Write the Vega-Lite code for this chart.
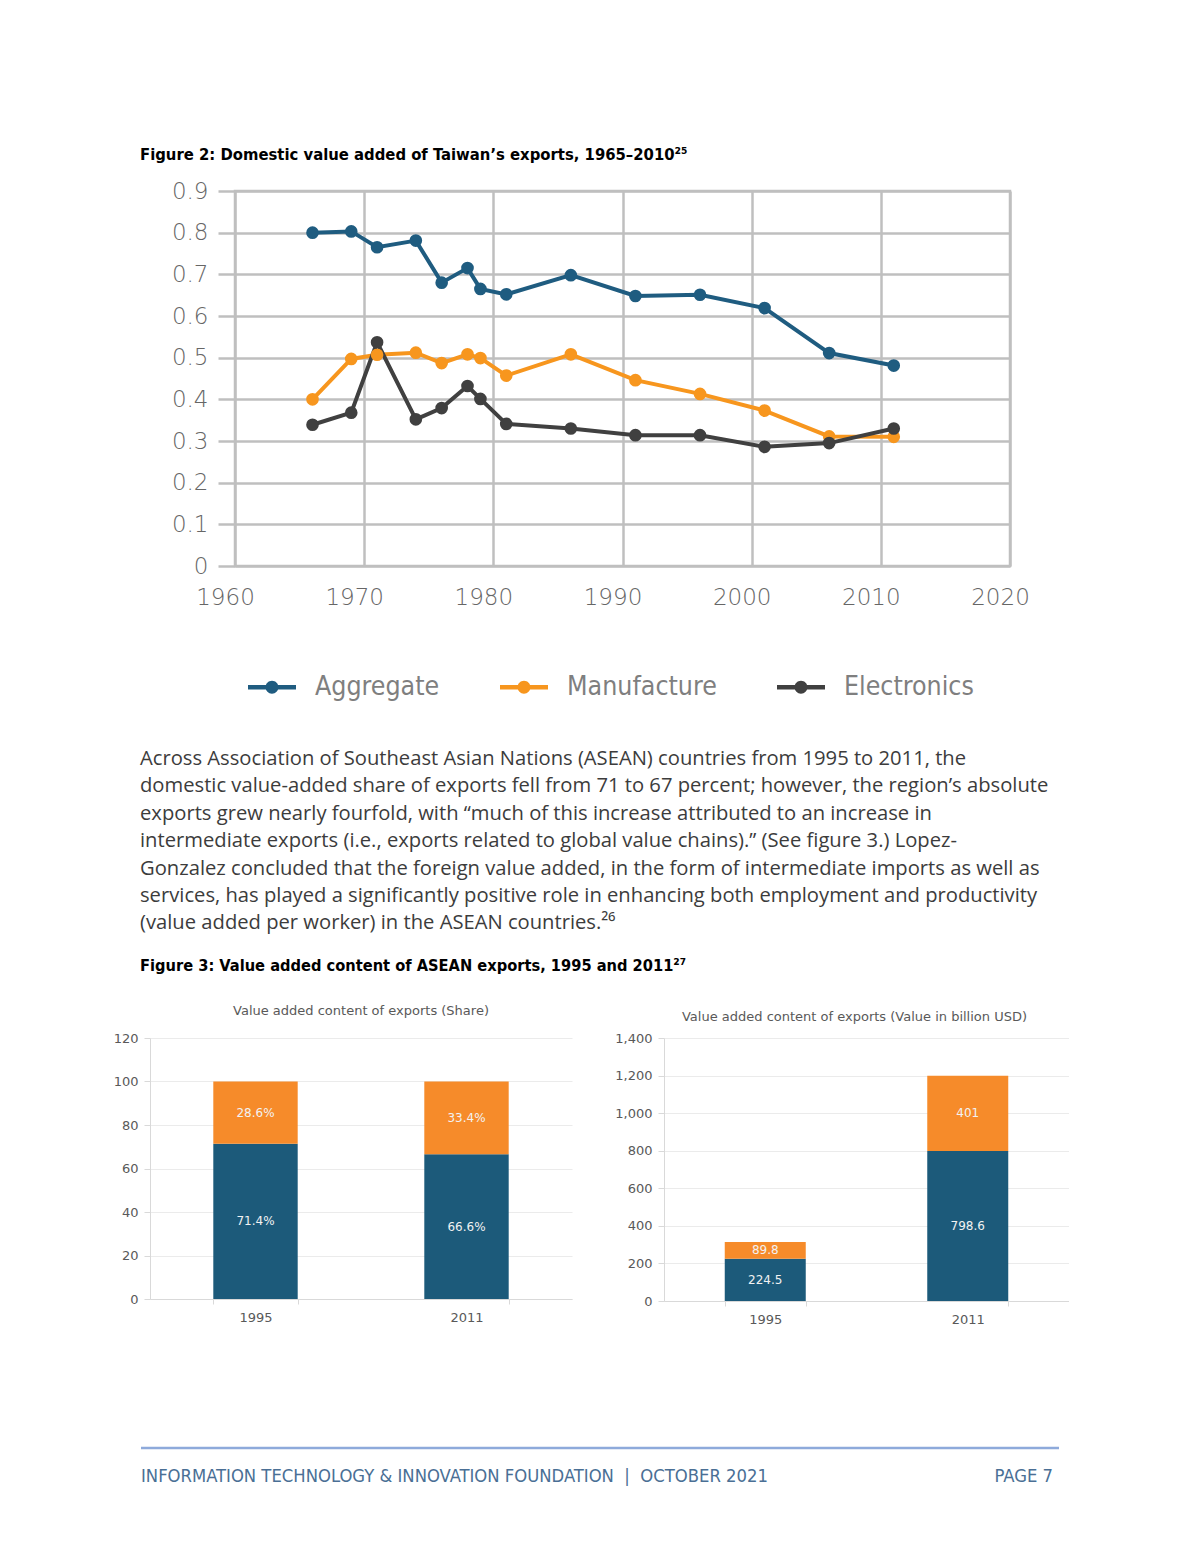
{
  "$schema": "https://vega.github.io/schema/vega-lite/v6.json",
  "background": "white",
  "padding": {"left": 113, "top": 147, "right": 0, "bottom": 0},
  "config": {
    "view": {"stroke": null},
    "axis": {"titleFontWeight": "normal"}
  },
  "datasets": {
    "line": [
      {"year": 1966, "value": 0.800, "series": "Aggregate"},
      {"year": 1969, "value": 0.803, "series": "Aggregate"},
      {"year": 1971, "value": 0.765, "series": "Aggregate"},
      {"year": 1974, "value": 0.781, "series": "Aggregate"},
      {"year": 1976, "value": 0.680, "series": "Aggregate"},
      {"year": 1978, "value": 0.715, "series": "Aggregate"},
      {"year": 1979, "value": 0.665, "series": "Aggregate"},
      {"year": 1981, "value": 0.652, "series": "Aggregate"},
      {"year": 1986, "value": 0.698, "series": "Aggregate"},
      {"year": 1991, "value": 0.648, "series": "Aggregate"},
      {"year": 1996, "value": 0.651, "series": "Aggregate"},
      {"year": 2001, "value": 0.619, "series": "Aggregate"},
      {"year": 2006, "value": 0.511, "series": "Aggregate"},
      {"year": 2011, "value": 0.481, "series": "Aggregate"},
      {"year": 1966, "value": 0.400, "series": "Manufacture"},
      {"year": 1969, "value": 0.497, "series": "Manufacture"},
      {"year": 1971, "value": 0.507, "series": "Manufacture"},
      {"year": 1974, "value": 0.512, "series": "Manufacture"},
      {"year": 1976, "value": 0.487, "series": "Manufacture"},
      {"year": 1978, "value": 0.508, "series": "Manufacture"},
      {"year": 1979, "value": 0.499, "series": "Manufacture"},
      {"year": 1981, "value": 0.457, "series": "Manufacture"},
      {"year": 1986, "value": 0.508, "series": "Manufacture"},
      {"year": 1991, "value": 0.446, "series": "Manufacture"},
      {"year": 1996, "value": 0.413, "series": "Manufacture"},
      {"year": 2001, "value": 0.373, "series": "Manufacture"},
      {"year": 2006, "value": 0.311, "series": "Manufacture"},
      {"year": 2011, "value": 0.310, "series": "Manufacture"},
      {"year": 1966, "value": 0.339, "series": "Electronics"},
      {"year": 1969, "value": 0.368, "series": "Electronics"},
      {"year": 1971, "value": 0.537, "series": "Electronics"},
      {"year": 1974, "value": 0.352, "series": "Electronics"},
      {"year": 1976, "value": 0.379, "series": "Electronics"},
      {"year": 1978, "value": 0.432, "series": "Electronics"},
      {"year": 1979, "value": 0.401, "series": "Electronics"},
      {"year": 1981, "value": 0.341, "series": "Electronics"},
      {"year": 1986, "value": 0.330, "series": "Electronics"},
      {"year": 1991, "value": 0.314, "series": "Electronics"},
      {"year": 1996, "value": 0.314, "series": "Electronics"},
      {"year": 2001, "value": 0.286, "series": "Electronics"},
      {"year": 2006, "value": 0.295, "series": "Electronics"},
      {"year": 2011, "value": 0.330, "series": "Electronics"}
    ],
    "share": [
      {"year": "1995", "part": "Domestic value added", "value": 71.4, "label": "71.4%"},
      {"year": "1995", "part": "Foreign value added", "value": 28.6, "label": "28.6%"},
      {"year": "2011", "part": "Domestic value added", "value": 66.6, "label": "66.6%"},
      {"year": "2011", "part": "Foreign value added", "value": 33.4, "label": "33.4%"}
    ],
    "usd": [
      {"year": "1995", "part": "Domestic value added", "value": 224.5, "label": "224.5"},
      {"year": "1995", "part": "Foreign value added", "value": 89.8, "label": "89.8"},
      {"year": "2011", "part": "Domestic value added", "value": 798.6, "label": "798.6"},
      {"year": "2011", "part": "Foreign value added", "value": 401, "label": "401"}
    ]
  },
  "spacing": 46,
  "vconcat": [
    {
      "title": {
        "text": "Figure 2: Domestic value added of Taiwan’s exports, 1965–2010²⁵",
        "anchor": "start", "frame": "group", "dx": -10, "offset": 15,
        "font": "DejaVu Sans Condensed, Liberation Sans, sans-serif", "fontSize": 16.5, "fontWeight": "bold", "color": "#000000"
      },
      "spacing": 0,
      "hconcat": [
        {
          "width": 20, "height": 1,
          "data": {"values": []},
          "mark": {"type": "point"},
          "encoding": {}
        },
        {
          "width": 775, "height": 375,
          "view": {"stroke": "#bfbfbf", "strokeWidth": 2.5},
          "data": {"name": "line"},
          "encoding": {
            "x": {
              "field": "year", "type": "quantitative",
              "scale": {"domain": [1960, 2020], "nice": false, "zero": false},
              "axis": {
                "values": [1960, 1970, 1980, 1990, 2000, 2010, 2020], "format": "d", "title": null,
                "grid": true, "gridColor": "#bfbfbf", "gridWidth": 2.5, "domain": false, "ticks": false,
                "labelFont": "DejaVu Sans", "labelFontWeight": 200, "labelFontSize": 23, "labelColor": "#666666",
                "labelPadding": 20, "labelOffset": -10, "labelFlush": false, "labelOverlap": false
              }
            },
            "y": {
              "field": "value", "type": "quantitative",
              "scale": {"domain": [0, 0.9], "nice": false},
              "axis": {
                "values": [0, 0.1, 0.2, 0.3, 0.4, 0.5, 0.6, 0.7, 0.8, 0.9], "format": ".1~f", "title": null,
                "grid": true, "gridColor": "#bfbfbf", "gridWidth": 2.5, "domain": false,
                "ticks": true, "tickSize": 17, "tickColor": "#bfbfbf", "tickWidth": 2.5,
                "labelFont": "DejaVu Sans", "labelFontWeight": 200, "labelFontSize": 23, "labelColor": "#666666", "labelPadding": 10,
                "labelOverlap": false
              }
            }
          },
          "layer": [
            {
              "mark": {"type": "line", "strokeWidth": 4},
              "encoding": {
                "stroke": {
                  "field": "series", "type": "nominal",
                  "scale": {"domain": ["Aggregate", "Manufacture", "Electronics"], "range": ["#1f5c80", "#f7961e", "#404040"]},
                  "legend": null
                }
              }
            },
            {
              "mark": {"type": "point", "filled": true, "size": 160, "opacity": 1, "strokeWidth": 0},
              "encoding": {
                "fill": {
                  "field": "series", "type": "nominal",
                  "scale": {"domain": ["Aggregate", "Manufacture", "Electronics"], "range": ["#1f5c80", "#f7961e", "#404040"]},
                  "legend": {
                    "orient": "none", "legendX": 13, "legendY": 472, "direction": "horizontal", "title": null,
                    "symbolType": "M-1,-0.09H1V0.09H-1Z M0.27,0A0.27,0.27,0,1,1,-0.27,0A0.27,0.27,0,1,1,0.27,0Z",
                    "symbolSize": 2304, "symbolStrokeWidth": 0, "symbolOpacity": 1,
                    "labelFont": "DejaVu Sans Condensed, Liberation Sans, sans-serif", "labelFontSize": 26.5, "labelColor": "#7f7f7f",
                    "labelOffset": 19, "columnPadding": 60, "padding": 0
                  }
                }
              }
            }
          ],
          "resolve": {"scale": {"fill": "independent", "stroke": "independent"}}
        }
      ]
    },
    {
      "title": {
        "text": [
          "Across Association of Southeast Asian Nations (ASEAN) countries from 1995 to 2011, the",
          "domestic value-added share of exports fell from 71 to 67 percent; however, the region’s absolute",
          "exports grew nearly fourfold, with “much of this increase attributed to an increase in",
          "intermediate exports (i.e., exports related to global value chains).” (See figure 3.) Lopez-",
          "Gonzalez concluded that the foreign value added, in the form of intermediate imports as well as",
          "services, has played a significantly positive role in enhancing both employment and productivity",
          "(value added per worker) in the ASEAN countries.²⁶"
        ],
        "subtitle": "Figure 3: Value added content of ASEAN exports, 1995 and 2011²⁷",
        "anchor": "start", "frame": "group", "dx": -10, "offset": 31,
        "font": "Open Sans", "fontSize": 20.2, "fontWeight": "normal", "color": "#3c3c3c", "lineHeight": 27.4,
        "subtitleFont": "DejaVu Sans Condensed, Liberation Sans, sans-serif", "subtitleFontSize": 16.3, "subtitleFontWeight": "bold",
        "subtitleColor": "#000000", "subtitlePadding": 24
      },
      "spacing": 120,
      "vconcat": [
        {
          "spacing": 42,
          "hconcat": [
            {
              "width": 422, "height": 261,
              "title": {
                "text": "Value added content of exports (Share)", "anchor": "middle", "offset": 14,
                "font": "DejaVu Sans", "fontSize": 13, "fontWeight": "normal", "color": "#595959"
              },
              "data": {"name": "share"},
              "encoding": {
                "x": {
                  "field": "year", "type": "ordinal",
                  "scale": {"paddingInner": 0.6, "paddingOuter": 0.3},
                  "axis": {
                    "title": null, "labelAngle": 0, "domainColor": "#d9d9d9", "tickColor": "#d9d9d9",
                    "tickBand": "extent", "tickSize": 5, "labelFont": "DejaVu Sans", "labelFontSize": 13,
                    "labelColor": "#595959", "labelPadding": 7, "grid": false
                  }
                },
                "y": {
                  "field": "value", "type": "quantitative", "stack": "zero",
                  "scale": {"domain": [0, 120], "nice": false},
                  "axis": {
                    "values": [0, 20, 40, 60, 80, 100, 120], "title": null, "grid": true, "gridColor": "#ebebeb",
                    "domainColor": "#d9d9d9", "tickColor": "#d9d9d9", "tickSize": 6,
                    "labelFont": "DejaVu Sans", "labelFontSize": 13, "labelColor": "#595959", "labelPadding": 6
                  }
                },
                "order": {"field": "part", "type": "nominal", "sort": "ascending"}
              },
              "layer": [
                {
                  "mark": {"type": "bar"},
                  "encoding": {
                    "color": {
                      "field": "part", "type": "nominal",
                      "scale": {"domain": ["Domestic value added", "Foreign value added"], "range": ["#1c5a7a", "#f68b2a"]},
                      "legend": null
                    }
                  }
                },
                {
                  "mark": {"type": "text", "font": "DejaVu Sans", "fontSize": 12, "color": "#f2f2f2", "baseline": "middle"},
                  "encoding": {
                    "detail": {"field": "part", "type": "nominal"},
                    "y": {"field": "value", "type": "quantitative", "stack": "zero", "bandPosition": 0.5},
                    "text": {"field": "label", "type": "nominal"}
                  }
                }
              ]
            },
            {
              "width": 405, "height": 263,
              "title": {
                "text": "Value added content of exports (Value in billion USD)", "anchor": "middle", "offset": 8, "dx": -12,
                "font": "DejaVu Sans", "fontSize": 13, "fontWeight": "normal", "color": "#595959"
              },
              "data": {"name": "usd"},
              "encoding": {
                "x": {
                  "field": "year", "type": "ordinal",
                  "scale": {"paddingInner": 0.6, "paddingOuter": 0.3},
                  "axis": {
                    "title": null, "labelAngle": 0, "domainColor": "#d9d9d9", "tickColor": "#d9d9d9",
                    "tickBand": "extent", "tickSize": 5, "labelFont": "DejaVu Sans", "labelFontSize": 13,
                    "labelColor": "#595959", "labelPadding": 7, "grid": false
                  }
                },
                "y": {
                  "field": "value", "type": "quantitative", "stack": "zero",
                  "scale": {"domain": [0, 1400], "nice": false},
                  "axis": {
                    "values": [0, 200, 400, 600, 800, 1000, 1200, 1400], "format": ",d", "title": null,
                    "grid": true, "gridColor": "#ebebeb",
                    "domainColor": "#d9d9d9", "tickColor": "#d9d9d9", "tickSize": 6,
                    "labelFont": "DejaVu Sans", "labelFontSize": 13, "labelColor": "#595959", "labelPadding": 6
                  }
                },
                "order": {"field": "part", "type": "nominal", "sort": "ascending"}
              },
              "layer": [
                {
                  "mark": {"type": "bar"},
                  "encoding": {
                    "color": {
                      "field": "part", "type": "nominal",
                      "scale": {"domain": ["Domestic value added", "Foreign value added"], "range": ["#1c5a7a", "#f68b2a"]},
                      "legend": null
                    }
                  }
                },
                {
                  "mark": {"type": "text", "font": "DejaVu Sans", "fontSize": 12, "color": "#f2f2f2", "baseline": "middle"},
                  "encoding": {
                    "detail": {"field": "part", "type": "nominal"},
                    "y": {"field": "value", "type": "quantitative", "stack": "zero", "bandPosition": 0.5},
                    "text": {"field": "label", "type": "nominal"}
                  }
                }
              ]
            }
          ]
        },
        {
          "width": 918, "height": 38,
          "data": {"values": [{}]},
          "layer": [
            {
              "mark": {"type": "rule", "color": "#8eaadb", "strokeWidth": 2.5},
              "encoding": {
                "x": {"datum": 0, "type": "quantitative", "scale": {"domain": [0, 1], "range": [-9, 909]}, "axis": null},
                "x2": {"datum": 1},
                "y": {"datum": 1, "type": "quantitative", "scale": {"domain": [0, 1]}, "axis": null}
              }
            },
            {
              "mark": {
                "type": "text", "text": "INFORMATION TECHNOLOGY & INNOVATION FOUNDATION\u00a0 |\u00a0 OCTOBER 2021",
                "align": "left", "baseline": "bottom", "font": "DejaVu Sans Condensed, Liberation Sans, sans-serif", "fontSize": 18.3, "color": "#4a6f95"
              },
              "encoding": {
                "x": {"datum": 0, "type": "quantitative"},
                "y": {"datum": 0, "type": "quantitative"}
              }
            },
            {
              "mark": {
                "type": "text", "text": "PAGE 7", "dx": -6,
                "align": "right", "baseline": "bottom", "font": "DejaVu Sans Condensed, Liberation Sans, sans-serif", "fontSize": 18.3, "color": "#4a6f95"
              },
              "encoding": {
                "x": {"datum": 1, "type": "quantitative"},
                "y": {"datum": 0, "type": "quantitative"}
              }
            }
          ]
        }
      ]
    }
  ]
}
